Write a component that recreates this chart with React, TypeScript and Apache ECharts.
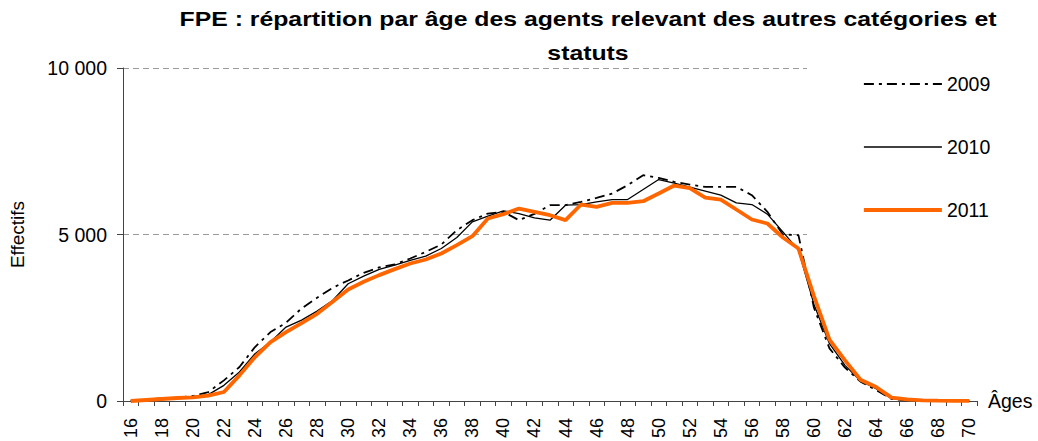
import React, { useEffect, useRef } from "react";
import * as echarts from "echarts";

const ages = [
  "16", "17", "18", "19", "20", "21", "22", "23", "24", "25", "26", "27", "28", "29", "30",
  "31", "32", "33", "34", "35", "36", "37", "38", "39", "40", "41", "42", "43", "44", "45",
  "46", "47", "48", "49", "50", "51", "52", "53", "54", "55", "56", "57", "58", "59", "60",
  "61", "62", "63", "64", "65", "66", "67", "68", "69", "70",
];

const s2009 = [
  10, 50, 80, 100, 150, 270, 620, 1020, 1620, 2070, 2350, 2780, 3100, 3400, 3620,
  3850, 4010, 4100, 4280, 4480, 4700, 5130, 5430, 5630, 5680, 5430, 5620, 5880, 5880, 5980,
  6100, 6230, 6480, 6780, 6700, 6580, 6500, 6430, 6430, 6430, 6180, 5680, 5000, 4980, 2800,
  1580, 1000, 580, 330, 60, 20, 10, 5, 5, 5,
];

const s2010 = [
  10, 30, 70, 100, 130, 190, 470, 870, 1420, 1770, 2220, 2430, 2700, 3020, 3520,
  3750, 3950, 4080, 4220, 4350, 4580, 4910, 5380, 5550, 5710, 5630, 5500, 5430, 5880, 5900,
  5980, 6050, 6050, 6350, 6650, 6540, 6420, 6300, 6180, 5950, 5900, 5610, 5080, 4530, 2900,
  1720, 1070, 600, 370, 70, 30, 10, 10, 5, 5,
];

const s2011 = [
  0, 30, 60, 90, 110, 160, 270, 770, 1320, 1770, 2070, 2340, 2620, 2980, 3350,
  3580, 3780, 3960, 4130, 4250, 4430, 4680, 4950, 5480, 5610, 5780, 5680, 5580, 5430, 5900,
  5830, 5950, 5950, 6000, 6230, 6470, 6390, 6110, 6050, 5750, 5450, 5330, 4910, 4580, 3150,
  1840, 1220, 640, 420, 100, 50, 20, 10, 5, 5,
];

const yTicks = [0, 5000, 10000];
const yTickLabels = ["0", "5 000", "10 000"];

const titleLine1 = "FPE : répartition par âge des agents relevant des autres catégories et";
const titleLine2 = "statuts";

const FONT = '"Liberation Sans", Arial, sans-serif';

export default function App() {
  const ref = useRef<HTMLDivElement>(null);

  useEffect(() => {
    if (!ref.current) return;
    const chart = echarts.init(ref.current, null, { renderer: "svg" });
    chart.setOption({
      animation: false,
      backgroundColor: "#ffffff",
      textStyle: { fontFamily: FONT },
      grid: {
        left: 123,
        right: 61,
        top: 68,
        bottom: 40,
        outerBoundsMode: "none",
      },
      legend: {
        orient: "vertical",
        left: 862,
        top: 74,
        itemWidth: 78,
        itemHeight: 20,
        itemGap: 43,
        padding: 0,
        itemStyle: { opacity: 0, color: "transparent", borderWidth: 0 },
        textStyle: { fontFamily: FONT, fontSize: 19.5, color: "#000" },
        data: [
          { name: "2009", lineStyle: { width: 1.8 } },
          { name: "2010", lineStyle: { width: 1.3 } },
          { name: "2011", lineStyle: { width: 3.8 } },
        ],
      },
      graphic: [
        {
          type: "rect",
          z: 1,
          shape: { x: 807, y: 55, width: 231, height: 190 },
          style: { fill: "#ffffff" },
          silent: true,
        },
        {
          type: "text",
          x: 588,
          y: 19.5,
          scaleX: 1.24,
          style: {
            text: titleLine1,
            fontFamily: FONT,
            fontWeight: "bold",
            fontSize: 20,
            fill: "#000",
            align: "center",
            verticalAlign: "middle",
          },
        },
        {
          type: "text",
          x: 588,
          y: 53,
          scaleX: 1.24,
          style: {
            text: titleLine2,
            fontFamily: FONT,
            fontWeight: "bold",
            fontSize: 20,
            fill: "#000",
            align: "center",
            verticalAlign: "middle",
          },
        },
      ],
      xAxis: {
        type: "category",
        data: ages,
        boundaryGap: true,
        name: "Âges",
        nameLocation: "end",
        nameGap: 11,
        nameTextStyle: { fontFamily: FONT, fontSize: 19.5, color: "#000", align: "left", verticalAlign: "middle" },
        axisLine: { show: true, lineStyle: { color: "#444", width: 1 } },
        axisTick: { show: true, inside: false, length: 5, interval: 0, alignWithLabel: false, lineStyle: { color: "#444" } },
        axisLabel: {
          interval: 1,
          rotate: 90,
          margin: 17,
          fontFamily: FONT,
          fontSize: 18,
          color: "#000",
        },
        splitLine: { show: false },
      },
      yAxis: {
        type: "value",
        min: 0,
        max: 10000,
        interval: 5000,
        name: "Effectifs",
        nameLocation: "middle",
        nameGap: 96,
        nameRotate: 90,
        nameTextStyle: { fontFamily: FONT, fontSize: 19, color: "#000" },
        axisLine: { show: true, lineStyle: { color: "#444", width: 1 } },
        axisTick: { show: true, inside: false, length: 6, lineStyle: { color: "#444" } },
        axisLabel: {
          margin: 16,
          fontFamily: FONT,
          fontSize: 19.5,
          color: "#000",
          formatter: (v: number) => {
            const i = yTicks.indexOf(v);
            return i >= 0 ? yTickLabels[i] : String(v);
          },
        },
        splitLine: {
          show: true,
          lineStyle: { color: "#9a9a9a", type: [6, 4], width: 1 },
        },
      },
      series: [
        {
          name: "2009",
          type: "line",
          data: s2009,
          symbol: "none",
          lineStyle: { color: "#000", width: 1.8, type: [10, 5, 3, 5] },
          itemStyle: { color: "#000" },
          z: 2,
        },
        {
          name: "2010",
          type: "line",
          data: s2010,
          symbol: "none",
          lineStyle: { color: "#000", width: 1.3, type: "solid" },
          itemStyle: { color: "#000" },
          z: 2,
        },
        {
          name: "2011",
          type: "line",
          data: s2011,
          symbol: "none",
          lineStyle: { color: "#ff6600", width: 3.8, type: "solid" },
          itemStyle: { color: "#ff6600" },
          z: 2,
        },
      ],
    });
    return () => chart.dispose();
  }, []);

  return (
    <div
      ref={ref}
      style={{ position: "fixed", left: 0, top: 0, width: 1038, height: 441, background: "#fff" }}
    />
  );
}
